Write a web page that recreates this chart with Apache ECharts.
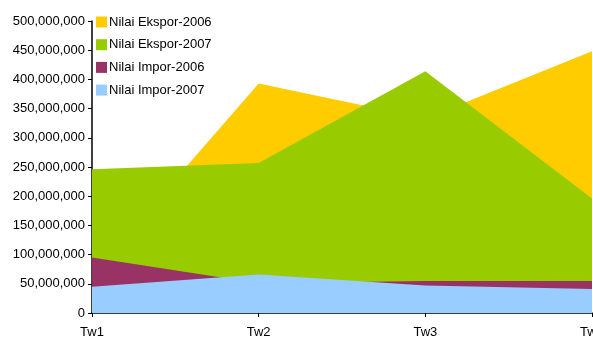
<!DOCTYPE html>
<html>
<head>
<meta charset="utf-8">
<script src="https://cdn.jsdelivr.net/npm/echarts@6/dist/echarts.min.js"></script>
<style>
  html, body { margin: 0; padding: 0; background: #fff; }
  #chart { width: 593px; height: 341px; }
</style>
</head>
<body>
<div id="chart"></div>
<script>
// quarters
const categories = ["Tw1", "Tw2", "Tw3", "Tw4"];

// values
const ekspor2006 = [65000000, 393000000, 333000000, 448000000];
const ekspor2007 = [246000000, 257000000, 414000000, 196000000];
const impor2006 = [95000000, 51000000, 55000000, 55000000];
const impor2007 = [45000000, 66000000, 47000000, 41000000];

const seriesNames = ["Nilai Ekspor-2006", "Nilai Ekspor-2007", "Nilai Impor-2006", "Nilai Impor-2007"];
const seriesColors = ["#FFCC00", "#99CC00", "#993366", "#99CCFF"];
const seriesData = [ekspor2006, ekspor2007, impor2006, impor2007];

const chart = echarts.init(document.getElementById("chart"));

const makeArea = (i) => ({
  name: seriesNames[i],
  type: "line",
  data: seriesData[i],
  symbol: "none",
  color: seriesColors[i],
  lineStyle: { width: 0 },
  areaStyle: { color: seriesColors[i], opacity: 1 },
  animation: false,
});

let option = {
  textStyle: { fontFamily: "Liberation Sans, Arial, sans-serif" },
  legend: {
    orient: "vertical",
    left: 91,
    top: 10,
    itemWidth: 11,
    itemHeight: 11,
    itemGap: 8.7,
    icon: "rect",
    data: seriesNames,
    textStyle: { fontSize: 13, color: "#000", lineHeight: 14, padding: [0, 0, 0, -3] },
  },
  grid: {
    left: 92,
    right: 1,
    top: 21,
    bottom: 28,
    outerBoundsMode: "none",
    containLabel: false,
  },
  xAxis: {
    type: "category",
    boundaryGap: false,
    data: categories,
    axisLine: { lineStyle: { color: "#000", width: 1.5 } },
    axisTick: { alignWithLabel: true, length: 4, lineStyle: { color: "#000" } },
    axisLabel: { color: "#000", fontSize: 13, margin: 13 },
  },
  yAxis: {
    type: "value",
    min: 0,
    max: 500000000,
    interval: 50000000,
    splitLine: { show: false },
    axisLine: { show: true, lineStyle: { color: "#000", width: 1.5 } },
    axisTick: { show: true, length: 4, lineStyle: { color: "#000" } },
    axisLabel: {
      color: "#000",
      fontSize: 13,
      margin: 7,
      formatter: (v) => v.toLocaleString("en-US"),
    },
  },
  series: [makeArea(0), makeArea(1), makeArea(2), makeArea(3)],
};

chart.setOption(option);
</script>
</body>
</html>
